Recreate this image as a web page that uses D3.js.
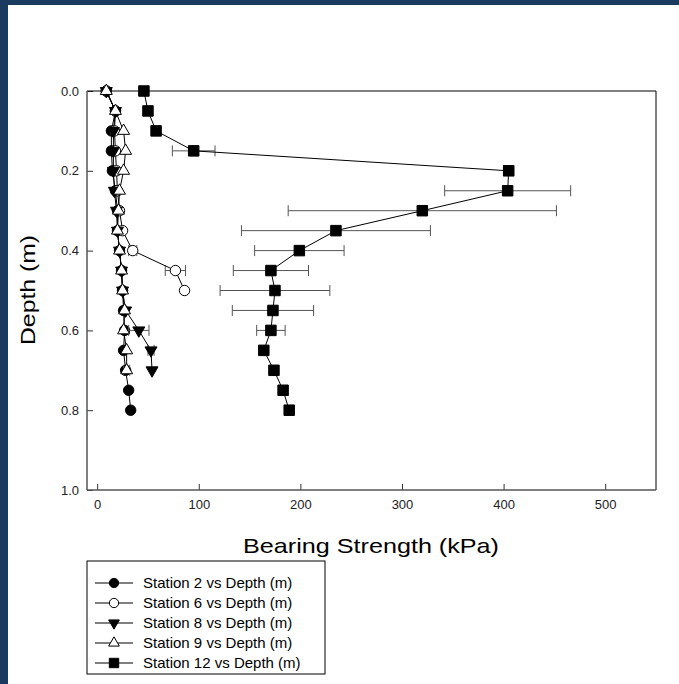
<!DOCTYPE html>
<html>
<head>
<meta charset="utf-8">
<script src="https://cdn.jsdelivr.net/npm/d3@7"></script>
<style>
  html, body { margin: 0; padding: 0; background: #fff; }
  svg { display: block; font-family: "Liberation Sans", Arial, sans-serif; }
</style>
</head>
<body>
<div id="container"></div>
<script>
// depth levels (m)
const depths = [0, 0.05, 0.1, 0.15, 0.2, 0.25, 0.3, 0.35, 0.4, 0.45, 0.5, 0.55, 0.6, 0.65, 0.7, 0.75, 0.8];

// bearing strength (kPa) per station, with +/- error
const station2 = [9, 18, 14, 14, 15, 18, 20, 20, 22, 24, 25, 26, 27, 26, 28, 31, 33];
const station2Err = [0, 0, 0, 0, 0, 0, 0, 0, 0, 0, 0, 0, 0, 0, 0, 0, 0];
const station6 = [9, 18, 17, 18, 19, 20, 22, 25, 35, 77, 86];
const station6Err = [0, 0, 0, 0, 0, 0, 0, 0, 4, 10, 0];
const station8 = [9, 18, 16, 16, 16, 17, 19, 20, 22, 24, 25, 28, 41, 53, 54];
const station8Err = [0, 0, 0, 0, 0, 0, 0, 0, 0, 0, 0, 0, 10, 3, 0];
const station9 = [9, 18, 26, 28, 26, 22, 21, 20, 22, 24, 25, 27, 26, 29, 29];
const station9Err = [0, 0, 0, 0, 0, 0, 0, 0, 0, 0, 0, 0, 0, 0, 3];
const station12 = [46, 50, 58, 95, 405, 404, 320, 235, 199, 171, 175, 173, 171, 164, 174, 183, 189];
const station12Err = [0, 0, 0, 21, 5, 62, 132, 93, 44, 37, 54, 40, 14, 0, 0, 0, 0];

const seriesNames = ["Station 2 vs Depth (m)", "Station 6 vs Depth (m)", "Station 8 vs Depth (m)",
  "Station 9 vs Depth (m)", "Station 12 vs Depth (m)"];
const xTicks = [0, 100, 200, 300, 400, 500];
const yTicks = [0, 0.2, 0.4, 0.6, 0.8, 1.0];

const W = 679, H = 684;
const plot = { left: 87, right: 656, top: 91, bottom: 490 };

const series = [
  { name: seriesNames[0], vals: station2, err: station2Err, sym: d3.symbolCircle, size: 85, fill: "#000", rot: 0 },
  { name: seriesNames[1], vals: station6, err: station6Err, sym: d3.symbolCircle, size: 85, fill: "#fff", rot: 0 },
  { name: seriesNames[2], vals: station8, err: station8Err, sym: d3.symbolTriangle, size: 62, fill: "#000", rot: 180 },
  { name: seriesNames[3], vals: station9, err: station9Err, sym: d3.symbolTriangle, size: 62, fill: "#fff", rot: 0 },
  { name: seriesNames[4], vals: station12, err: station12Err, sym: d3.symbolSquare, size: 110, fill: "#000", rot: 0 },
];

const svg = d3.select("#container").append("svg")
  .attr("width", W).attr("height", H);

// navy frame on the page edge
svg.append("rect").attr("x", 0).attr("y", 0).attr("width", W).attr("height", 5).attr("fill", "#1b3a60");
svg.append("rect").attr("x", 0).attr("y", 0).attr("width", 8).attr("height", H).attr("fill", "#1b3a60");

const x = d3.scaleLinear().domain([-10, 550]).range([plot.left, plot.right]);
const y = d3.scaleLinear().domain([0, 1]).range([plot.top, plot.bottom]);

// axes
const xAxis = svg.append("g")
  .attr("transform", `translate(0,${plot.bottom})`)
  .call(d3.axisBottom(x).tickValues(xTicks).tickSizeInner(-6).tickSizeOuter(0).tickPadding(10));
const yAxis = svg.append("g")
  .attr("transform", `translate(${plot.left},0)`)
  .call(d3.axisLeft(y).tickValues(yTicks).tickFormat(d3.format(".1f")).tickSizeInner(-6).tickSizeOuter(0).tickPadding(8));
[xAxis, yAxis].forEach(g => {
  g.select(".domain").remove();
  g.selectAll("line").attr("stroke", "#333");
  g.selectAll("text").attr("font-size", 13).attr("fill", "#222")
    .attr("font-family", "Liberation Sans, Arial, sans-serif");
});

// frame
svg.append("line").attr("x1", plot.left).attr("x2", plot.right).attr("y1", plot.top).attr("y2", plot.top).attr("stroke", "#000");
svg.append("line").attr("x1", plot.right).attr("x2", plot.right).attr("y1", plot.top).attr("y2", plot.bottom).attr("stroke", "#000");
svg.append("line").attr("x1", plot.left).attr("x2", plot.left).attr("y1", plot.top).attr("y2", plot.bottom).attr("stroke", "#555").attr("stroke-width", 1.5);
svg.append("line").attr("x1", plot.left).attr("x2", plot.right).attr("y1", plot.bottom).attr("y2", plot.bottom).attr("stroke", "#555").attr("stroke-width", 1.5);

const line = d3.line().x(d => x(d.v)).y(d => y(d.d));

series.forEach(s => {
  const pts = s.vals.map((v, i) => ({ v: v, d: depths[i], e: s.err[i] }));
  const g = svg.append("g");

  // error bars
  const eb = g.selectAll(".eb").data(pts.filter(p => p.e > 0)).enter().append("g").attr("stroke", "#555");
  eb.append("line").attr("x1", p => x(p.v - p.e)).attr("x2", p => x(p.v + p.e))
    .attr("y1", p => y(p.d)).attr("y2", p => y(p.d));
  eb.append("line").attr("x1", p => x(p.v - p.e)).attr("x2", p => x(p.v - p.e))
    .attr("y1", p => y(p.d) - 5.5).attr("y2", p => y(p.d) + 5.5);
  eb.append("line").attr("x1", p => x(p.v + p.e)).attr("x2", p => x(p.v + p.e))
    .attr("y1", p => y(p.d) - 5.5).attr("y2", p => y(p.d) + 5.5);

  g.append("path").datum(pts).attr("fill", "none").attr("stroke", "#000").attr("stroke-width", 1).attr("d", line);

  g.selectAll(".m").data(pts).enter().append("path")
    .attr("d", d3.symbol().type(s.sym).size(s.size))
    .attr("transform", p => `translate(${x(p.v)},${y(p.d)}) rotate(${s.rot})`)
    .attr("fill", s.fill).attr("stroke", "#000").attr("stroke-width", 1);
});

// axis titles
svg.append("text").attr("x", 371).attr("y", 553).attr("text-anchor", "middle")
  .attr("font-size", 21).attr("textLength", 256).attr("lengthAdjust", "spacingAndGlyphs")
  .text("Bearing Strength (kPa)");
svg.append("text").attr("transform", "translate(35,290) rotate(-90)").attr("text-anchor", "middle")
  .attr("font-size", 21).attr("textLength", 110).attr("lengthAdjust", "spacingAndGlyphs")
  .text("Depth (m)");

// legend
const lg = svg.append("g");
lg.append("rect").attr("x", 87).attr("y", 561).attr("width", 238).attr("height", 113)
  .attr("fill", "#fff").attr("stroke", "#000");
series.forEach((s, i) => {
  const cy = 583 + i * 20;
  lg.append("line").attr("x1", 95).attr("x2", 133).attr("y1", cy).attr("y2", cy).attr("stroke", "#000");
  lg.append("path").attr("d", d3.symbol().type(s.sym).size(s.size * 0.8))
    .attr("transform", `translate(114,${cy}) rotate(${s.rot})`)
    .attr("fill", s.fill).attr("stroke", "#000");
  lg.append("text").attr("x", 143).attr("y", cy).attr("dy", "0.35em").attr("font-size", 15)
    .text(s.name);
});
</script>
</body>
</html>
